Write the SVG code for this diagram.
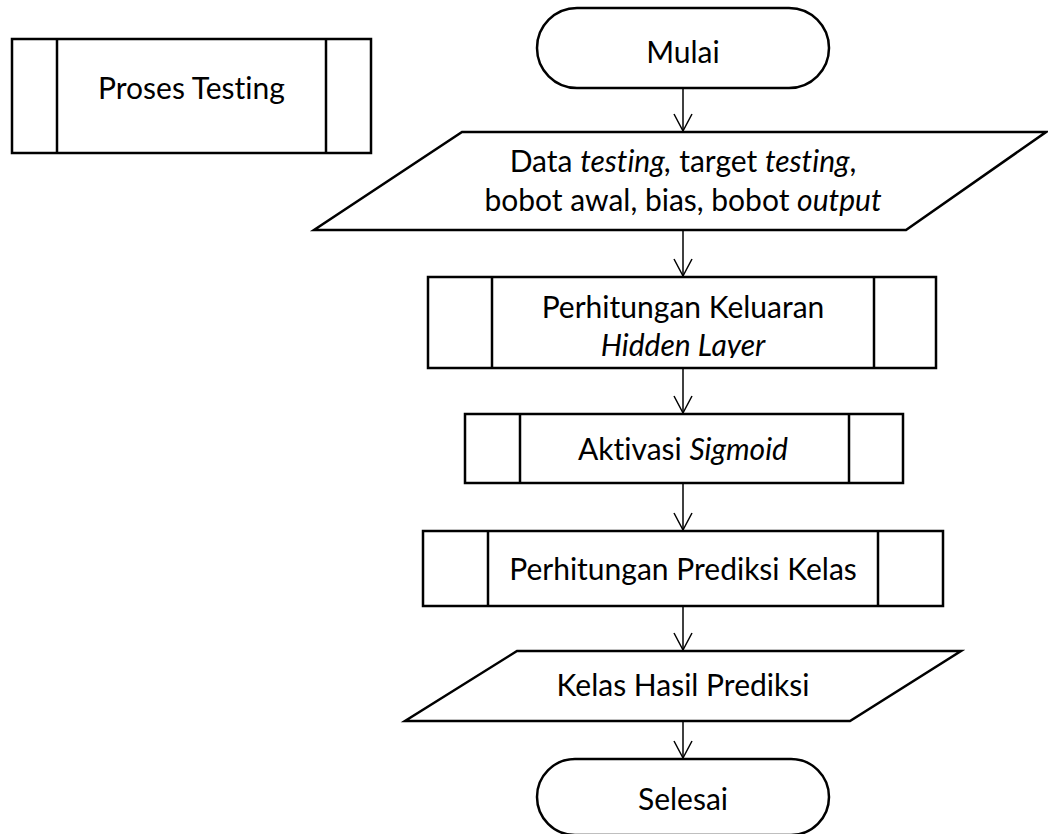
<svg xmlns="http://www.w3.org/2000/svg" width="1048" height="834" viewBox="0 0 1048 834">
  <style>
    .shape { fill: #ffffff; stroke: #000000; stroke-width: 2.5; stroke-linejoin: miter; }
    .div { stroke: #000000; stroke-width: 2.5; }
    .conn { stroke: #000000; stroke-width: 1.5; fill: none; }
    .lbl { font-family: Lato, "Liberation Sans", sans-serif; font-size: 30px; fill: #000000; text-anchor: middle; font-variant-ligatures: none; font-feature-settings: "liga" 0, "clig" 0; }
    .it { font-style: italic; }
  </style>
  <defs>
    <marker id="arr" viewBox="0 0 20 20" markerWidth="20" markerHeight="20" refX="18" refY="10" orient="auto" markerUnits="userSpaceOnUse">
      <path d="M1,1 L18,10 L1,19" fill="none" stroke="#000000" stroke-width="1.5"/>
    </marker>
    <clipPath id="clipBox1">
      <rect x="492" y="277" width="382" height="81"/>
    </clipPath>
  </defs>
  <rect width="1048" height="834" fill="#ffffff"/>

  <g id="proses-testing">
    <rect class="shape" x="12" y="39" width="359" height="114"/>
    <line class="div" x1="57" y1="39" x2="57" y2="153"/>
    <line class="div" x1="326" y1="39" x2="326" y2="153"/>
    <text class="lbl" x="191.5" y="99">Proses Testing</text>
  </g>

  <g id="mulai">
    <rect class="shape" x="537" y="8" width="292" height="80" rx="40" ry="40"/>
    <text class="lbl" x="683" y="63">Mulai</text>
  </g>

  <g id="input-data">
    <polygon class="shape" points="462,132 1046,132 906,230 314,230"/>
    <text class="lbl" x="683" y="172">Data <tspan class="it">testing,</tspan> target <tspan class="it">testing</tspan>,</text>
    <text class="lbl" x="683" y="211">bobot awal, bias, bobot <tspan class="it">output</tspan></text>
  </g>

  <g id="perhitungan-keluaran">
    <rect class="shape" x="428" y="277" width="508" height="91"/>
    <line class="div" x1="492" y1="277" x2="492" y2="368"/>
    <line class="div" x1="874" y1="277" x2="874" y2="368"/>
    <text class="lbl" x="683" y="318">Perhitungan Keluaran</text>
    <text class="lbl it" x="683" y="356" clip-path="url(#clipBox1)">Hidden Layer</text>
  </g>

  <g id="aktivasi-sigmoid">
    <rect class="shape" x="465" y="414" width="438" height="69"/>
    <line class="div" x1="520" y1="414" x2="520" y2="483"/>
    <line class="div" x1="849" y1="414" x2="849" y2="483"/>
    <text class="lbl" x="683" y="460">Aktivasi <tspan class="it">Sigmoid</tspan></text>
  </g>

  <g id="perhitungan-prediksi">
    <rect class="shape" x="423" y="531" width="520" height="75"/>
    <line class="div" x1="488" y1="531" x2="488" y2="606"/>
    <line class="div" x1="878" y1="531" x2="878" y2="606"/>
    <text class="lbl" x="683" y="580">Perhitungan Prediksi Kelas</text>
  </g>

  <g id="kelas-hasil">
    <polygon class="shape" points="517,651 961,651 850,721 405,721"/>
    <text class="lbl" x="683" y="696">Kelas Hasil Prediksi</text>
  </g>

  <g id="selesai">
    <rect class="shape" x="537" y="759" width="292" height="76" rx="38" ry="38"/>
    <text class="lbl" x="683" y="810">Selesai</text>
  </g>

  <g id="connectors">
    <line class="conn" x1="683" y1="88" x2="683" y2="131" marker-end="url(#arr)"/>
    <line class="conn" x1="683" y1="230" x2="683" y2="276" marker-end="url(#arr)"/>
    <line class="conn" x1="683" y1="368" x2="683" y2="413" marker-end="url(#arr)"/>
    <line class="conn" x1="683" y1="483" x2="683" y2="530" marker-end="url(#arr)"/>
    <line class="conn" x1="683" y1="606" x2="683" y2="650" marker-end="url(#arr)"/>
    <line class="conn" x1="683" y1="721" x2="683" y2="758" marker-end="url(#arr)"/>
  </g>
</svg>
